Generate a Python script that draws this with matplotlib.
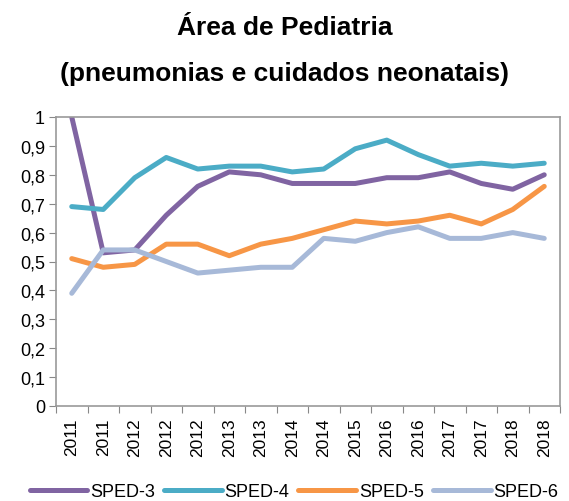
import numpy as np
import matplotlib.pyplot as plt

plt.rcParams['font.family'] = ['Liberation Sans', 'DejaVu Sans']

anos = ['2011', '2011', '2012', '2012', '2012', '2013', '2013', '2014',
        '2014', '2015', '2016', '2016', '2017', '2017', '2018', '2018']
sped3 = [1.00, 0.53, 0.54, 0.66, 0.76, 0.81, 0.80, 0.77, 0.77, 0.77, 0.79, 0.79, 0.81, 0.77, 0.75, 0.80]
sped4 = [0.69, 0.68, 0.79, 0.86, 0.82, 0.83, 0.83, 0.81, 0.82, 0.89, 0.92, 0.87, 0.83, 0.84, 0.83, 0.84]
sped5 = [0.51, 0.48, 0.49, 0.56, 0.56, 0.52, 0.56, 0.58, 0.61, 0.64, 0.63, 0.64, 0.66, 0.63, 0.68, 0.76]
sped6 = [0.39, 0.54, 0.54, 0.50, 0.46, 0.47, 0.48, 0.48, 0.58, 0.57, 0.60, 0.62, 0.58, 0.58, 0.60, 0.58]

series = [('SPED-3', sped3, '#8064A2'), ('SPED-4', sped4, '#4BACC6'),
          ('SPED-5', sped5, '#F79646'), ('SPED-6', sped6, '#A7B9D8')]

fig = plt.figure(figsize=(5.69, 5.02), dpi=100)
ax = fig.add_axes([56/569, 1-407/502, 504/569, 289/502])

x = np.arange(len(anos))
for nome, vals, cor in series:
    ax.plot(x, vals, color=cor, lw=3.6, solid_capstyle='round', solid_joinstyle='round', label=nome)

ax.set_ylim(0, 1)
ax.set_xlim(-0.5, len(anos) - 0.5)
yt = np.arange(0, 1.01, 0.1)
ax.set_yticks(yt)
ax.set_yticklabels(['0' if v == 0 else '1' if v > 0.99 else ('%.1f' % v).replace('.', ',') for v in yt])
ax.set_xticks(np.arange(-0.5, len(anos), 1))
ax.set_xticklabels([])
ax.set_xticks(x, minor=True)
ax.set_xticklabels(anos, minor=True, rotation=90)
ax.tick_params(axis='x', which='minor', length=0, pad=8, labelsize=12.5)
ax.tick_params(axis='x', which='major', length=5, color='#888888')
ax.tick_params(axis='y', length=5, color='#888888', labelsize=13, pad=3)
for s in ax.spines.values():
    s.set_color('#999999')
    s.set_linewidth(1.2)

fig.text(0.5, 1-28/502, 'Área de Pediatria', ha='center', va='center', fontsize=19, fontweight='bold')
fig.text(0.5, 1-74/502, '(pneumonias e cuidados neonatais)', ha='center', va='center', fontsize=19, fontweight='bold')

fig.legend(loc='center', bbox_to_anchor=(294/569, 1-493/502), ncol=4, frameon=False,
           fontsize=13, handlelength=3.2, handletextpad=0.15, columnspacing=0.5,
           borderpad=0, borderaxespad=0)

fig.savefig('out.png', dpi=100)
